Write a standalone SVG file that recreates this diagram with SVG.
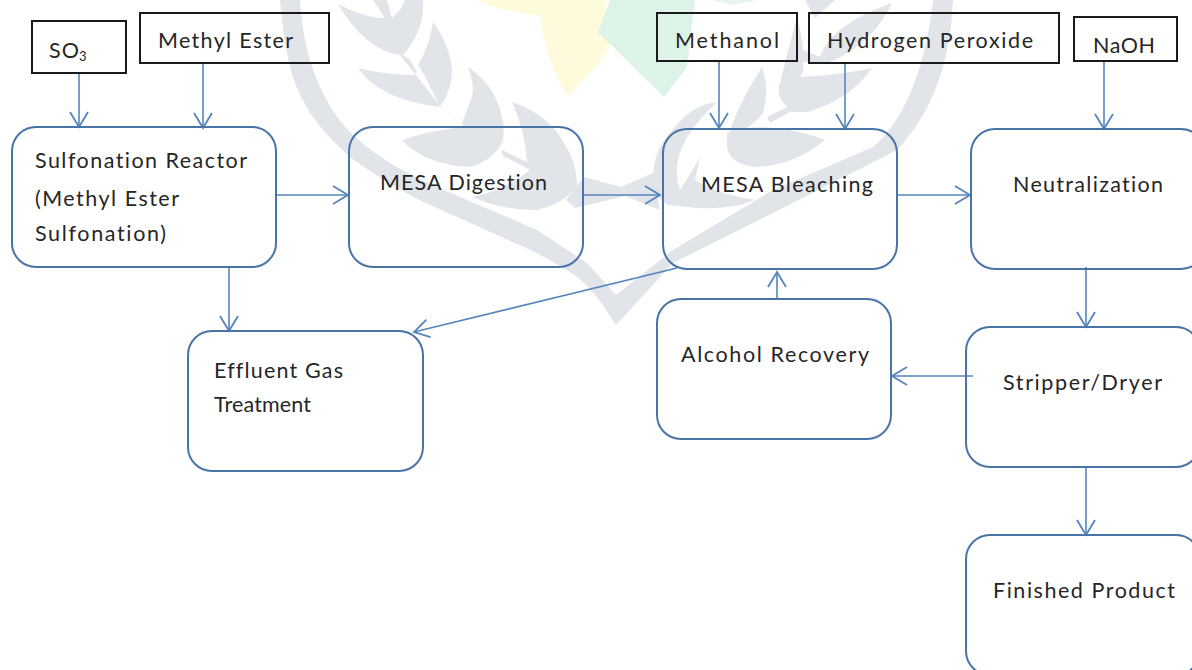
<svg xmlns="http://www.w3.org/2000/svg" width="1192" height="670" viewBox="0 0 1192 670">
<style>
text{font-family:Lato,"Open Sans","Liberation Sans",sans-serif;font-size:21.5px;fill:#262626;font-variant-ligatures:none}
.feed{fill:none;stroke:#1a1a1a;stroke-width:2}
.step{fill:none;stroke:#4a74a8;stroke-width:2}
.wm{fill:#e1e5ea;stroke:none}
#connectors path{fill:none;stroke:#5585bd;stroke-width:1.6;marker-end:url(#arrow)}
</style>
<defs>
<marker id="arrow" markerUnits="userSpaceOnUse" markerWidth="20" markerHeight="24" refX="17" refY="12" orient="auto">
<path d="M2 3 L17 12 L2 21" fill="none" stroke="#5585bd" stroke-width="1.8"/>
</marker>
</defs>
<rect width="1192" height="670" fill="#fff"/>
<g id="watermark">
<path fill="#fdfbdc" d="M478 0H605L612 42L600 62L568 97Q545 60 540 15Q500 12 478 0Z"/>
<path fill="#ddf3e8" d="M610 0H695L687 67L664 97L598 32Z"/>
<path fill="#e6f6ee" d="M710 0H757L733 5Z"/>
<path class="wm" d="M280 0H300C302 25 305 45 312 67C322 95 335 118 353 135C380 160 410 175 437 187L537 230L587 263L616 295L673 250L773 190L873 147C900 125 925 75 933 0H953C950 75 925 120 897 150L773 213L673 263L616 325C600 300 590 285 570 272L537 253L437 208C400 192 375 175 350 157C320 130 300 105 290 67C285 45 282 25 280 0Z"/>
<g id="left-sprig">
<path class="wm" d="M338 4Q365 18 385 18L373 0H387L392 18L400 10L405 0H423Q425 30 403 55L410 60L417 72L415 75Q385 75 358 68Q380 100 440 107Q425 75 418 65Q430 45 433 22Q450 45 452 70Q452 90 440 107L462 123L464 127Q430 130 402 140Q425 165 470 167Q495 160 503 140Q505 125 502 117Q495 85 468 67Q475 85 472 97L462 123L442 108L400 55Q365 50 338 4Z"/>
<path class="wm" d="M502 150L527 162Q525 130 512 102Q550 115 565 145Q578 165 577 188Q560 205 537 210Q500 210 473 197Q505 190 530 170L502 155Z"/>
<path class="wm" d="M566 200L584 177L621 187L653 173L660 210L625 196L575 208Z"/>
</g>
<g id="right-sprig">
<path class="wm" d="M717 102Q690 105 670 133Q655 150 653 173Q650 195 668 205L697 208Q730 210 755 200Q720 195 695 180L700 157L727 147L727 140Q735 110 762 67Q770 90 763 113Q755 125 727 140L727 133Q750 125 773 128Q800 130 825 140Q795 165 757 167Q730 165 727 147L700 157Q690 175 680 190Q665 150 717 102Z"/>
<path class="wm" d="M767 117L787 107Q775 95 780 83Q788 50 797 17Q802 35 803 50L820 57Q830 25 892 3Q875 40 835 60Q825 65 803 62Q805 70 800 77Q840 75 872 68Q850 100 807 112L790 112L770 123Z"/>
<path class="wm" d="M805 0H835L815 18Z"/>
</g>
</g>
<g id="connectors">
<path d="M79 73V127"/>
<path d="M203 63V128"/>
<path d="M276 195H348"/>
<path d="M583 195H660"/>
<path d="M719 61V128"/>
<path d="M845 63V129"/>
<path d="M897 195H970"/>
<path d="M1104 61V129"/>
<path d="M229 267V331"/>
<path d="M677 268L414 332"/>
<path d="M777 299V272"/>
<path d="M1086 267V327"/>
<path d="M973 376H892"/>
<path d="M1086 467V535"/>
</g>
<g id="so3"><rect class="feed" x="32" y="21" width="94" height="52"/><text x="49" y="58" textLength="30">SO</text><text x="79" y="61" style="font-size:13px">3</text></g>
<g id="methyl-ester"><rect class="feed" x="140" y="13" width="189" height="50"/><text x="158" y="48" textLength="135">Methyl Ester</text></g>
<g id="methanol"><rect class="feed" x="657" y="13" width="140" height="48"/><text x="675" y="48" textLength="104">Methanol</text></g>
<g id="hydrogen-peroxide"><rect class="feed" x="809" y="13" width="250" height="50"/><text x="827" y="48" textLength="206">Hydrogen Peroxide</text></g>
<g id="naoh"><rect class="feed" x="1074" y="17" width="103" height="44"/><text x="1093" y="53" textLength="62">NaOH</text></g>
<g id="sulfonation-reactor"><rect class="step" x="12" y="127" width="264" height="140" rx="24"/><text x="35" y="168" textLength="212">Sulfonation Reactor</text><text x="35" y="206" textLength="144">(Methyl Ester</text><text x="35" y="241" textLength="131">Sulfonation)</text></g>
<g id="mesa-digestion"><rect class="step" x="349" y="127" width="234" height="140" rx="24"/><text x="380" y="190" textLength="167">MESA Digestion</text></g>
<g id="mesa-bleaching"><rect class="step" x="663" y="129" width="234" height="140" rx="24"/><text x="701" y="192" textLength="172">MESA Bleaching</text></g>
<g id="neutralization"><rect class="step" x="971" y="129" width="234" height="140" rx="24"/><text x="1013" y="192" textLength="150">Neutralization</text></g>
<g id="effluent-gas-treatment"><rect class="step" x="188" y="331" width="235" height="140" rx="24"/><text x="214" y="378" textLength="129">Effluent Gas</text><text x="214" y="412" textLength="97">Treatment</text></g>
<g id="alcohol-recovery"><rect class="step" x="657" y="299" width="234" height="140" rx="24"/><text x="681" y="362" textLength="188">Alcohol Recovery</text></g>
<g id="stripper-dryer"><rect class="step" x="966" y="327" width="234" height="140" rx="24"/><text x="1003" y="390" textLength="159">Stripper/Dryer</text></g>
<g id="finished-product"><rect class="step" x="966" y="535" width="234" height="140" rx="24"/><text x="993" y="598" textLength="182">Finished Product</text></g>
</svg>
